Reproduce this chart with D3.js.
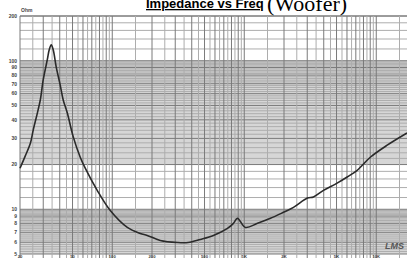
<!DOCTYPE html>
<html lang="en">
<head>
<meta charset="UTF-8">
<title>Impedance vs Freq</title>
<script src="https://d3js.org/d3.v7.min.js"></script>
<style>
  body { margin: 0; background: white; }
  svg { display: block; }
</style>
</head>
<body>
<svg></svg>
<script>
// impedance curve (Hz, ohm)
const freqs = [20, 21.9, 24, 25.2, 27.1, 28.5, 30, 32.2, 33.3, 34.5, 35.7, 37.6, 40.3, 42.5, 45.6, 50.7,
  57.2, 62.4, 76.9, 96.6, 130, 163, 184, 231, 311, 376, 465, 584, 746, 828, 888, 1020, 1260,
  1580, 1980, 2360, 3010, 3340, 3980, 5050, 6020, 7170, 9010, 12100, 17100];
const ohms = [18.9, 22.8, 27.9, 34.2, 44.6, 54.4, 74.5, 101.6, 118.6, 128, 118.6, 91, 68.8, 54.4, 44.6, 30.6,
  22.4, 18.9, 13.4, 9.8, 7.55, 6.88, 6.67, 6.17, 5.98, 5.98, 6.27, 6.67, 7.44, 8.04, 8.69, 7.55, 8.04,
  8.69, 9.54, 10.3, 11.9, 12.1, 13.4, 15.0, 16.5, 18.3, 22.4, 27.0, 32.6];

const yTickValues = [200, 100, 90, 80, 70, 60, 50, 40, 30, 20, 10, 9, 8, 7, 6, 5];
const xTickValues = [20, 50, 100, 200, 500, 1000, 2000, 5000, 10000];
const xTickLabels = ["20", "50", "100", "200", "500", "1K", "2K", "5K", "10K"];
// shaded ohm bands
const bands = [[20, 100], [5, 10]];

const w = 407, h = 258;
const svg = d3.select("svg").attr("width", w).attr("height", h);

const x = d3.scaleLog().domain([20, 20000]).range([20, 416]);
const y = d3.scaleLog().domain([5, 200]).range([254, 16]);

svg.selectAll(".band").data(bands).enter().append("rect")
  .attr("x", 20).attr("width", w - 20)
  .attr("y", d => y(d[1])).attr("height", d => y(d[0]) - y(d[1]))
  .attr("fill", "#d6d6d6");

// grid lines: 5 Hz / 2 ohm style steps per decade, major lines on 1..9 x decade
const vLines = [];
[10, 100, 1000, 10000].forEach(d => {
  for (let k = 10; k < 100; k += 5) {
    const f = d * k / 10;
    if (f >= 20 && f <= 20000) vLines.push({v: f, major: k % 10 === 0});
  }
});
vLines.push({v: 20000, major: true});

const hLines = [];
[1, 10, 100].forEach(d => {
  for (let k = 10; k < 100; k += 2) {
    const z = d * k / 10;
    if (z >= 5 && z <= 200) hLines.push({v: z, major: k % 10 === 0});
  }
});
hLines.push({v: 200, major: true});

const grid = svg.append("g");
grid.selectAll(".h").data(hLines).enter().append("line")
  .attr("x1", 20).attr("x2", w)
  .attr("y1", d => y(d.v)).attr("y2", d => y(d.v))
  .attr("stroke", d => d.major ? "#7a7a7a" : "#adadad")
  .attr("stroke-width", 1);
grid.selectAll(".v").data(vLines).enter().append("line")
  .attr("y1", 16).attr("y2", 258)
  .attr("x1", d => x(d.v)).attr("x2", d => x(d.v))
  .attr("stroke", d => d.major ? "#7a7a7a" : "#adadad")
  .attr("stroke-width", 1);

// axis labels
const lab = sel => sel
  .attr("font-family", "Arial, Liberation Sans, sans-serif")
  .attr("font-weight", "bold").attr("fill", "#444");
svg.selectAll(".yl").data(yTickValues).enter().append("text")
  .attr("x", 17).attr("y", d => y(d) + 1.8)
  .attr("text-anchor", "end").attr("font-size", 5)
  .call(lab)
  .text(d => d);
svg.append("text").attr("x", 21).attr("y", 12)
  .attr("font-size", 5).call(lab)
  .text("Ohm");
svg.selectAll(".xl").data(xTickValues).enter().append("text")
  .attr("x", d => x(d)).attr("y", 257.6)
  .attr("text-anchor", "middle").attr("font-size", 4.2)
  .call(lab)
  .text((d, i) => xTickLabels[i]);

// curve
const line = d3.line()
  .x((d, i) => x(freqs[i]))
  .y(d => y(d))
  .curve(d3.curveCatmullRom.alpha(0.5));
svg.append("path").datum(ohms)
  .attr("d", line)
  .attr("fill", "none")
  .attr("stroke", "#2a2a2a")
  .attr("stroke-width", 1.6);

// title
svg.append("text").attr("x", 146).attr("y", 8)
  .attr("font-family", "Arial, Liberation Sans, sans-serif")
  .attr("font-size", 13).attr("font-weight", "bold")
  .attr("text-decoration", "underline")
  .text("Impedance vs Freq");
svg.append("text").attr("x", 267).attr("y", 11)
  .attr("font-family", "Times New Roman, Liberation Serif, serif")
  .attr("font-size", 22)
  .text("(Woofer)");

// logo
svg.append("text").attr("x", 385).attr("y", 249)
  .attr("font-family", "Arial, Liberation Sans, sans-serif")
  .attr("font-size", 9).attr("font-style", "italic").attr("font-weight", "bold")
  .attr("fill", "#555")
  .text("LMS");
</script>
</body>
</html>
